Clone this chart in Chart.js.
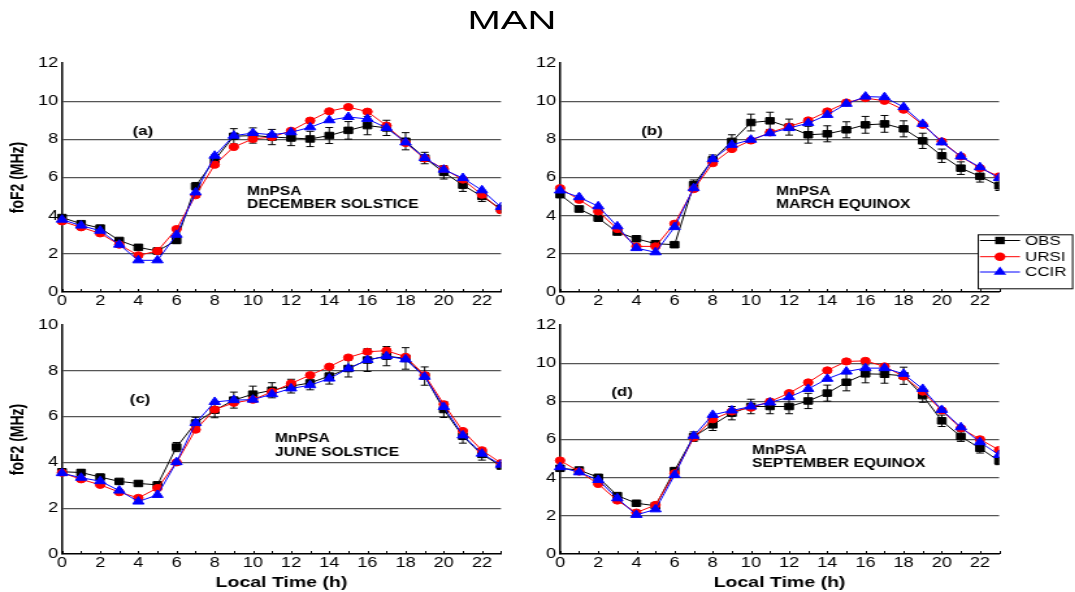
<!DOCTYPE html>
<html>
<head>
<meta charset="utf-8">
<script src="https://cdn.jsdelivr.net/npm/chart.js@4.4.1/dist/chart.umd.min.js"></script>
<style>
  html, body { margin: 0; padding: 0; background: #fff; overflow: hidden; }
  /* the whole figure is laid out 827px wide and widened to 1075px */
  #stage { position: absolute; left: 0; top: 0; width: 827px; height: 592px;
           transform: scaleX(1.3); transform-origin: 0 0; }
  #stage canvas { position: absolute; }
  #title { position: absolute; left: 0; top: 8px; width: 788px; text-align: center;
           font: 25px "Liberation Sans", Arial, sans-serif; line-height: 25px; color: #000; }
  #title span { display: inline-block; transform: scaleX(1.23); }
</style>
</head>
<body>
<div id="stage">
  <div id="title"><span>MAN</span></div>
  <canvas id="pa" width="400" height="270" style="left:0;top:40px;width:400px;height:270px"></canvas>
  <canvas id="pb" width="427" height="270" style="left:400px;top:40px;width:427px;height:270px"></canvas>
  <canvas id="pc" width="400" height="282" style="left:0;top:310px;width:400px;height:282px"></canvas>
  <canvas id="pd" width="427" height="282" style="left:400px;top:310px;width:427px;height:282px"></canvas>
</div>
<script>
// Local time (h)
const hours = [0,1,2,3,4,5,6,7,8,9,10,11,12,13,14,15,16,17,18,19,20,21,22,23];

// foF2 (MHz), December solstice
const decObs    = [3.90,3.58,3.35,2.70,2.34,2.15,2.70,5.54,6.93,8.16,8.20,8.12,8.07,8.02,8.20,8.47,8.72,8.60,7.90,7.02,6.27,5.60,5.01,4.35];
const decObsErr = [0.10,0.10,0.10,0.10,0.10,0.10,0.15,0.20,0.25,0.40,0.40,0.40,0.40,0.40,0.42,0.46,0.48,0.40,0.45,0.30,0.35,0.33,0.27,0.20];
const decUrsi   = [3.70,3.39,3.07,2.48,1.92,2.15,3.30,5.07,6.67,7.60,8.02,8.12,8.45,8.98,9.47,9.69,9.45,8.72,7.81,7.00,6.45,5.89,5.10,4.28];
const decCcir   = [3.79,3.48,3.21,2.48,1.66,1.66,3.00,5.22,7.14,8.19,8.33,8.24,8.37,8.63,9.00,9.17,9.07,8.60,7.84,7.02,6.41,5.97,5.33,4.45];

// foF2 (MHz), March equinox
const marObs    = [5.10,4.35,3.87,3.14,2.79,2.53,2.48,5.62,6.93,7.89,8.88,8.97,8.64,8.24,8.29,8.50,8.76,8.81,8.55,7.92,7.14,6.49,6.06,5.57];
const marObsErr = [0.15,0.15,0.15,0.12,0.10,0.10,0.10,0.25,0.25,0.35,0.44,0.45,0.42,0.44,0.42,0.42,0.44,0.44,0.42,0.40,0.35,0.33,0.30,0.25];
const marUrsi   = [5.44,4.83,4.22,3.30,2.39,2.39,3.58,5.39,6.75,7.49,7.94,8.36,8.67,8.99,9.46,9.93,10.16,10.02,9.55,8.76,7.89,7.10,6.49,6.06];
const marCcir   = [5.32,4.97,4.49,3.44,2.30,2.08,3.40,5.44,6.96,7.71,7.98,8.32,8.59,8.85,9.28,9.86,10.24,10.21,9.69,8.81,7.84,7.10,6.54,5.97];

// foF2 (MHz), June solstice
const junObs    = [3.59,3.56,3.36,3.17,3.08,3.02,4.67,5.72,6.28,6.72,6.98,7.15,7.33,7.47,7.77,8.10,8.47,8.64,8.54,7.77,6.31,5.14,4.35,3.85];
const junObsErr = [0.12,0.12,0.12,0.10,0.10,0.10,0.20,0.25,0.33,0.35,0.35,0.33,0.30,0.30,0.35,0.37,0.50,0.42,0.47,0.40,0.35,0.30,0.25,0.15];
const junUrsi   = [3.55,3.26,3.02,2.70,2.45,2.88,4.00,5.43,6.31,6.60,6.74,7.08,7.45,7.81,8.18,8.58,8.83,8.88,8.61,7.81,6.54,5.37,4.53,3.97];
const junCcir   = [3.53,3.33,3.18,2.77,2.29,2.58,4.01,5.72,6.64,6.72,6.74,6.98,7.23,7.37,7.66,8.10,8.47,8.64,8.50,7.74,6.42,5.18,4.38,3.90];

// foF2 (MHz), September equinox
const sepObs    = [4.49,4.40,4.02,3.06,2.66,2.53,4.37,6.15,6.77,7.38,7.73,7.73,7.73,8.02,8.43,9.00,9.44,9.42,9.34,8.30,6.98,6.15,5.54,4.88];
const sepObsErr = [0.15,0.12,0.10,0.10,0.08,0.08,0.12,0.25,0.30,0.35,0.38,0.38,0.38,0.40,0.42,0.45,0.47,0.47,0.45,0.35,0.30,0.25,0.25,0.20];
const sepUrsi   = [4.90,4.32,3.67,2.80,2.17,2.57,4.23,6.10,7.06,7.47,7.67,7.99,8.43,8.99,9.62,10.09,10.12,9.83,9.30,8.51,7.52,6.59,6.01,5.45];
const sepCcir   = [4.55,4.28,3.88,2.92,2.05,2.34,4.14,6.19,7.29,7.52,7.73,7.94,8.22,8.65,9.18,9.56,9.74,9.74,9.44,8.65,7.55,6.64,5.86,5.19];

const seriesNames = ['OBS', 'URSI', 'CCIR'];
const xTitle = 'Local Time (h)';
const yTitle = 'foF2 (MHz)';

const FONT = '"Liberation Sans", Arial, sans-serif';
Chart.defaults.font.family = FONT;
Chart.defaults.color = '#000';

function points(vals) { return hours.map((h, i) => ({ x: h, y: vals[i] })); }

// standard deviation bars on the observed curve
const errorBars = {
  id: 'errorBars',
  afterDatasetDraw(chart, args, opts) {
    if (args.index !== 0 || !opts.values) return;
    const { ctx, chartArea: a, scales: { x, y } } = chart;
    ctx.save();
    ctx.beginPath();
    ctx.rect(a.left - 10, a.top - 10, a.right - a.left + 10, a.bottom - a.top + 20);
    ctx.clip();
    ctx.strokeStyle = '#000';
    ctx.lineWidth = 1;
    ctx.beginPath();
    chart.data.datasets[0].data.forEach((pt, i) => {
      const e = opts.values[i];
      const px = x.getPixelForValue(pt.x);
      const y1 = y.getPixelForValue(pt.y + e);
      const y2 = y.getPixelForValue(pt.y - e);
      ctx.moveTo(px, y1); ctx.lineTo(px, y2);
      ctx.moveTo(px - 3, y1); ctx.lineTo(px + 3, y1);
      ctx.moveTo(px - 3, y2); ctx.lineTo(px + 3, y2);
    });
    ctx.stroke();
    ctx.restore();
  }
};

// small hourly tick marks along the time axis
const hourTicks = {
  id: 'hourTicks',
  afterDraw(chart) {
    const { ctx, chartArea: a, scales: { x } } = chart;
    ctx.save();
    ctx.strokeStyle = '#000';
    ctx.lineWidth = 1;
    ctx.beginPath();
    hours.forEach(h => {
      const px = Math.round(x.getPixelForValue(h)) + 0.5;
      ctx.moveTo(px, a.bottom);
      ctx.lineTo(px, a.bottom - 3);
    });
    ctx.stroke();
    ctx.restore();
  }
};

// panel letter and season caption
const notes = {
  id: 'notes',
  afterDraw(chart, args, o) {
    const { ctx, scales: { x, y } } = chart;
    ctx.save();
    ctx.fillStyle = '#000';
    ctx.font = 'bold 13px ' + FONT;
    ctx.textAlign = 'center';
    ctx.textBaseline = 'middle';
    ctx.fillText(o.tag, x.getPixelForValue(o.tagAt[0]), y.getPixelForValue(o.tagAt[1]));
    ctx.font = 'bold 12px ' + FONT;
    ctx.textAlign = 'left';
    ctx.textBaseline = 'alphabetic';
    const lx = x.getPixelForValue(o.textAt[0]);
    let ly = y.getPixelForValue(o.textAt[1]);
    o.lines.forEach(t => { ctx.fillText(t, lx, ly); ly += o.lineGap; });
    ctx.restore();
  }
};

// boxed key for the three curves
const keyBox = {
  id: 'keyBox',
  afterDraw(chart, args, o) {
    const ctx = chart.ctx;
    ctx.save();
    ctx.fillStyle = '#fff';
    ctx.fillRect(o.left, o.top, o.width, o.height);
    ctx.strokeStyle = '#000';
    ctx.lineWidth = 1;
    ctx.strokeRect(o.left + 0.5, o.top + 0.5, o.width, o.height);
    chart.data.datasets.forEach((ds, i) => {
      const cy = o.rows[i];
      ctx.strokeStyle = ds.borderColor;
      ctx.lineWidth = 1;
      ctx.beginPath();
      ctx.moveTo(o.lineFrom, cy); ctx.lineTo(o.lineTo, cy);
      ctx.stroke();
      ctx.fillStyle = ds.backgroundColor;
      Chart.helpers.drawPoint(ctx, { pointStyle: ds.pointStyle, radius: ds.pointRadius + 0.6, rotation: 0, borderWidth: 0 }, o.markX, cy);
      ctx.fillStyle = '#000';
      ctx.font = '13px ' + FONT;
      ctx.textAlign = 'left';
      ctx.textBaseline = 'middle';
      ctx.fillText(ds.label, o.textX, cy + 0.5);
    });
    ctx.restore();
  }
};

function makePanel(id, p) {
  const gridColor = c => (c.tick.value > 0 && c.tick.value < p.yMax) ? '#555' : 'rgba(0,0,0,0)';
  const clip = { left: 10, top: 10, right: 0, bottom: 10 };
  const plugins = [errorBars, hourTicks, notes];
  if (p.key) plugins.push(keyBox);
  return new Chart(document.getElementById(id), {
    type: 'line',
    data: {
      datasets: [
        { label: seriesNames[0], data: points(p.obs), borderColor: '#000', backgroundColor: '#000',
          pointStyle: 'rect', pointRadius: 4.6, borderWidth: 1, order: 3, clip },
        { label: seriesNames[1], data: points(p.ursi), borderColor: '#ff0000', backgroundColor: '#ff0000',
          pointStyle: 'circle', pointRadius: 3.6, borderWidth: 1, order: 2, clip },
        { label: seriesNames[2], data: points(p.ccir), borderColor: '#0000ff', backgroundColor: '#0000ff',
          pointStyle: 'triangle', pointRadius: 5, borderWidth: 1, order: 1, clip }
      ]
    },
    options: {
      responsive: false,
      animation: false,
      events: [],
      layout: { padding: { left: 0, right: p.padRight, top: p.padTop, bottom: 0 } },
      elements: { line: { tension: 0 }, point: { borderWidth: 0, hoverRadius: 0 } },
      plugins: {
        legend: { display: false },
        tooltip: { enabled: false },
        errorBars: { values: p.err },
        notes: p.notes,
        keyBox: p.key || {}
      },
      scales: {
        x: {
          type: 'linear', min: 0, max: 23,
          afterFit: s => { s.height = p.xHeight; },
          grid: { display: false, drawTicks: false },
          border: { display: true, color: '#000', width: 1.5 },
          ticks: { stepSize: 2, includeBounds: false, autoSkip: false, maxRotation: 0, padding: 1, font: { size: 14 } },
          title: p.showX ? { display: true, text: xTitle, font: { size: 15, weight: 'bold' }, padding: { top: 0, bottom: 0 } } : { display: false }
        },
        y: {
          min: 0, max: p.yMax,
          afterFit: s => { s.width = p.yWidth; },
          grid: { drawTicks: false, color: gridColor, lineWidth: 1.2 },
          border: { display: true, color: '#000', width: 1.5 },
          ticks: { stepSize: 2, padding: 3, font: { size: 14 } },
          title: p.showY ? { display: true, text: yTitle, font: { size: 14, weight: 'bold' }, padding: { top: 5.4, bottom: 0 } } : { display: false }
        }
      }
    },
    plugins
  });
}

makePanel('pa', {
  obs: decObs, err: decObsErr, ursi: decUrsi, ccir: decCcir, yMax: 12,
  padRight: 14.6, padTop: 23, xHeight: 18, yWidth: 47.7, showY: true, showX: false,
  notes: { tag: '(a)', tagAt: [4.24, 8.41], textAt: [9.69, 5.08], lineGap: 13, lines: ['MnPSA', 'DECEMBER SOLSTICE'] }
});

makePanel('pb', {
  obs: marObs, err: marObsErr, ursi: marUrsi, ccir: marCcir, yMax: 12,
  padRight: 58.5, padTop: 23, xHeight: 18, yWidth: 30.8, showY: false, showX: false,
  notes: { tag: '(b)', tagAt: [4.82, 8.41], textAt: [11.32, 5.08], lineGap: 12.5, lines: ['MnPSA', 'MARCH EQUINOX'] },
  key: { left: 352, top: 194.3, width: 72.6, height: 54, rows: [200.5, 216.7, 232], lineFrom: 353.8, lineTo: 384.6, markX: 369.2, textX: 388.5 }
});

makePanel('pc', {
  obs: junObs, err: junObsErr, ursi: junUrsi, ccir: junCcir, yMax: 10,
  padRight: 14.6, padTop: 15, xHeight: 38, yWidth: 47.7, showY: true, showX: true,
  notes: { tag: '(c)', tagAt: [4.09, 6.77], textAt: [11.16, 4.9], lineGap: 14, lines: ['MnPSA', 'JUNE SOLSTICE'] }
});

makePanel('pd', {
  obs: sepObs, err: sepObsErr, ursi: sepUrsi, ccir: sepCcir, yMax: 12,
  padRight: 58.5, padTop: 15, xHeight: 38, yWidth: 30.8, showY: false, showX: true,
  notes: { tag: '(d)', tagAt: [3.25, 8.49], textAt: [10.06, 5.24], lineGap: 13, lines: ['MnPSA', 'SEPTEMBER EQUINOX'] }
});
</script>
</body>
</html>
